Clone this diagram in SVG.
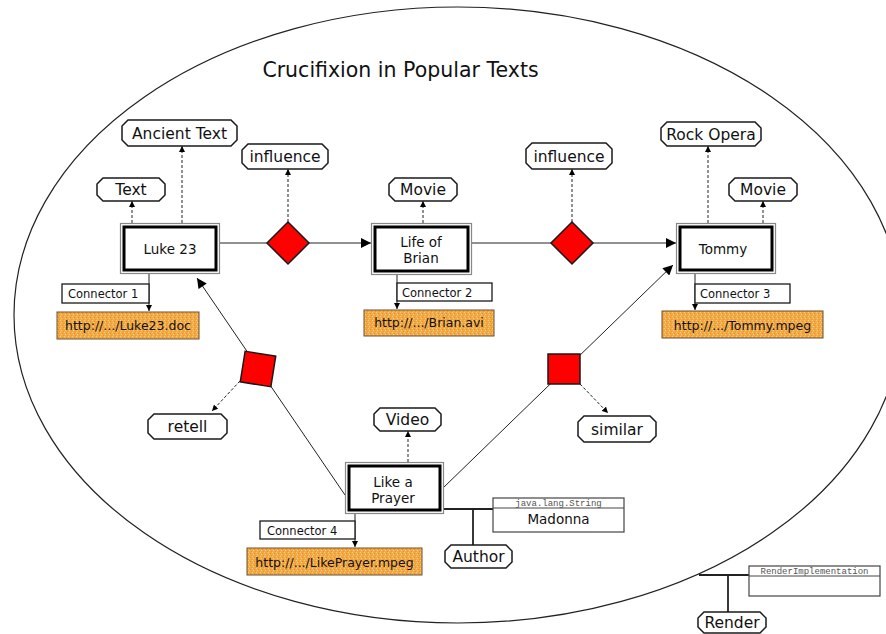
<svg xmlns="http://www.w3.org/2000/svg" width="886" height="634" viewBox="0 0 886 634">
<style>
text{font-family:"DejaVu Sans","Liberation Sans",sans-serif;fill:#111}
.tag{fill:#fff;stroke:#1a1a1a;stroke-width:1.5}
.tagt{font-size:15.5px;text-anchor:middle}
.nodeo{fill:#fff;stroke:#888;stroke-width:1.2}
.nodei{fill:none;stroke:#000;stroke-width:3}
.nodet{font-size:13.5px;text-anchor:middle}
.conn{fill:#fff;stroke:#1a1a1a;stroke-width:1.3}
.connt{font-size:11.5px}
.url{fill:url(#tex);stroke:#6b5030;stroke-width:1}
.urlt{font-size:12.5px;text-anchor:middle}
.rel{fill:#ff0000;stroke:#1a1a1a;stroke-width:1.5}
.ln{stroke:#222;stroke-width:1;fill:none}
.dash{stroke:#222;stroke-width:1;stroke-dasharray:3,2;fill:none}
.thick{stroke:#222;stroke-width:1.8;fill:none}
.cls{fill:#fff;stroke:#444;stroke-width:1.2}
.mono{font-family:"Liberation Mono","DejaVu Sans Mono",monospace;font-size:9px;fill:#555;text-anchor:middle}
</style>
<defs>
<pattern id="tex" width="4" height="4" patternUnits="userSpaceOnUse">
<rect width="4" height="4" fill="#f4aa44"/>
<rect x="0" y="0" width="1" height="1" fill="#fbcb7e"/>
<rect x="2" y="1" width="1" height="1" fill="#e0922c"/>
<rect x="1" y="2" width="1" height="1" fill="#fcd08a"/>
<rect x="3" y="3" width="1" height="1" fill="#e39a33"/>
</pattern>
<marker id="big" viewBox="0 0 10 10" refX="10" refY="5" markerWidth="11" markerHeight="10" markerUnits="userSpaceOnUse" orient="auto">
<path d="M0,0 L10,5 L0,10 z" fill="#000"/>
</marker>
<marker id="sm" viewBox="0 0 10 10" refX="10" refY="5" markerWidth="6" markerHeight="6" markerUnits="userSpaceOnUse" orient="auto">
<path d="M0,0 L10,5 L0,10 z" fill="#000"/>
</marker>
</defs>
<rect width="886" height="634" fill="#fff"/>
<g id="context">
<ellipse cx="458" cy="315" rx="444" ry="308" fill="none" stroke="#222" stroke-width="1.2"/>
<text x="400.5" y="77" font-size="20.5px" text-anchor="middle">Crucifixion in Popular Texts</text>
</g>
<g id="connectors">
<line class="ln" x1="220" y1="243" x2="267" y2="243"/>
<line class="ln" x1="309" y1="243" x2="371" y2="243" marker-end="url(#big)"/>
<line class="ln" x1="472" y1="243" x2="551" y2="243"/>
<line class="ln" x1="593" y1="243" x2="676" y2="243" marker-end="url(#big)"/>
<line class="ln" x1="345" y1="495" x2="197" y2="278" marker-end="url(#big)"/>
<line class="ln" x1="443" y1="488" x2="673" y2="265" marker-end="url(#big)"/>
<line class="dash" x1="132" y1="223" x2="132" y2="201" marker-end="url(#sm)"/>
<line class="dash" x1="182" y1="223" x2="182" y2="146" marker-end="url(#sm)"/>
<line class="dash" x1="288" y1="222" x2="288" y2="169" marker-end="url(#sm)"/>
<line class="dash" x1="423" y1="223" x2="423" y2="201" marker-end="url(#sm)"/>
<line class="dash" x1="572" y1="222" x2="572" y2="169" marker-end="url(#sm)"/>
<line class="dash" x1="708" y1="223" x2="708" y2="146" marker-end="url(#sm)"/>
<line class="dash" x1="763" y1="223" x2="763" y2="201" marker-end="url(#sm)"/>
<line class="dash" x1="240" y1="381" x2="212" y2="411" marker-end="url(#sm)"/>
<line class="dash" x1="580" y1="384" x2="608" y2="413" marker-end="url(#sm)"/>
<line class="dash" x1="408" y1="462" x2="408" y2="431" marker-end="url(#sm)"/>
<line class="ln" x1="149" y1="274" x2="149" y2="311" marker-end="url(#sm)"/>
<line class="ln" x1="397" y1="275" x2="397" y2="309" marker-end="url(#sm)"/>
<line class="ln" x1="695" y1="274" x2="695" y2="310" marker-end="url(#sm)"/>
<line class="ln" x1="355" y1="514" x2="355" y2="547" marker-end="url(#sm)"/>
<line class="thick" x1="444" y1="509" x2="493" y2="509"/>
<line class="thick" x1="473" y1="509" x2="473" y2="545"/>
<line class="thick" x1="699" y1="575" x2="749" y2="575"/>
<line class="thick" x1="728" y1="575" x2="728" y2="612"/>
</g>
<g id="luke23">
<rect class="nodeo" x="120.5" y="223.5" width="99" height="50"/>
<rect class="nodei" x="124" y="227" width="92" height="43"/>
<text class="nodet" x="170" y="254">Luke 23</text>
</g>
<g id="lifeofbrian">
<rect class="nodeo" x="371.5" y="223.5" width="100" height="51"/>
<rect class="nodei" x="375" y="227" width="93" height="44"/>
<text class="nodet" x="421" y="247">Life of</text>
<text class="nodet" x="421" y="263">Brian</text>
</g>
<g id="tommy">
<rect class="nodeo" x="676.5" y="223.5" width="99" height="50"/>
<rect class="nodei" x="680" y="227" width="92" height="43"/>
<text class="nodet" x="723" y="254">Tommy</text>
</g>
<g id="likeaprayer">
<rect class="nodeo" x="345.5" y="462.5" width="98" height="51"/>
<rect class="nodei" x="349" y="466" width="91" height="44"/>
<text class="nodet" x="393" y="487">Like a</text>
<text class="nodet" x="393" y="503">Prayer</text>
</g>
<g id="influence1-rel">
<polygon class="rel" points="288,222 309,243 288,264 267,243"/>
</g>
<g id="influence2-rel">
<polygon class="rel" points="572,222 593,243 572,264 551,243"/>
</g>
<g id="retell-rel">
<rect class="rel" x="242.5" y="353.5" width="31" height="31" transform="rotate(9 258 369)"/>
</g>
<g id="similar-rel">
<rect class="rel" x="548" y="354" width="32" height="30"/>
</g>
<g id="tag-ancient">
<polygon class="tag" points="128,120 231,120 237,126 237,140 231,146 128,146 122,140 122,126"/>
<text class="tagt" x="179.5" y="139">Ancient Text</text>
</g>
<g id="tag-text">
<polygon class="tag" points="103,178 159,178 165,184 165,195 159,201 103,201 97,195 97,184"/>
<text class="tagt" x="131" y="195">Text</text>
</g>
<g id="tag-influence1">
<polygon class="tag" points="248,144 322,144 328,150 328,163 322,169 248,169 242,163 242,150"/>
<text class="tagt" x="285" y="162">influence</text>
</g>
<g id="tag-movie1">
<polygon class="tag" points="395,178 451,178 457,184 457,195 451,201 395,201 389,195 389,184"/>
<text class="tagt" x="423" y="195">Movie</text>
</g>
<g id="tag-influence2">
<polygon class="tag" points="532,143 606,143 612,149 612,163 606,169 532,169 526,163 526,149"/>
<text class="tagt" x="569" y="162">influence</text>
</g>
<g id="tag-rockopera">
<polygon class="tag" points="667,122 755,122 761,128 761,140 755,146 667,146 661,140 661,128"/>
<text class="tagt" x="711" y="139.5">Rock Opera</text>
</g>
<g id="tag-movie2">
<polygon class="tag" points="735,178 791,178 797,184 797,195 791,201 735,201 729,195 729,184"/>
<text class="tagt" x="763" y="195">Movie</text>
</g>
<g id="tag-retell">
<polygon class="tag" points="154,414 221,414 227,420 227,433 221,439 154,439 148,433 148,420"/>
<text class="tagt" x="187.5" y="432">retell</text>
</g>
<g id="tag-similar">
<polygon class="tag" points="584,416 650,416 656,422 656,436 650,442 584,442 578,436 578,422"/>
<text class="tagt" x="617" y="434.5">similar</text>
</g>
<g id="tag-video">
<polygon class="tag" points="380,408 435,408 441,414 441,425 435,431 380,431 374,425 374,414"/>
<text class="tagt" x="407.5" y="425">Video</text>
</g>
<g id="tag-author">
<polygon class="tag" points="451,545 506,545 512,551 512,562 506,568 451,568 445,562 445,551"/>
<text class="tagt" x="478.5" y="562">Author</text>
</g>
<g id="tag-render">
<polygon class="tag" points="704,612 760,612 766,618 766,627 760,633 704,633 698,627 698,618"/>
<text class="tagt" x="732" y="628">Render</text>
</g>
<g id="connector1">
<rect class="conn" x="62" y="284" width="87" height="19"/>
<text class="connt" x="68" y="298">Connector 1</text>
</g>
<g id="connector2">
<rect class="conn" x="397" y="283" width="95" height="18"/>
<text class="connt" x="402" y="297">Connector 2</text>
</g>
<g id="connector3">
<rect class="conn" x="695" y="284" width="95" height="19"/>
<text class="connt" x="700" y="298">Connector 3</text>
</g>
<g id="connector4">
<rect class="conn" x="260" y="521" width="95" height="18"/>
<text class="connt" x="267" y="535">Connector 4</text>
</g>
<g id="url-luke">
<rect class="url" x="57" y="312" width="142" height="27"/>
<text class="urlt" x="128" y="330">http://.../Luke23.doc</text>
</g>
<g id="url-brian">
<rect class="url" x="364" y="310" width="130" height="26"/>
<text class="urlt" x="429" y="327">http://.../Brian.avi</text>
</g>
<g id="url-tommy">
<rect class="url" x="662" y="311" width="161" height="27"/>
<text class="urlt" x="742.5" y="330">http://.../Tommy.mpeg</text>
</g>
<g id="url-likeprayer">
<rect class="url" x="247" y="548" width="175" height="27"/>
<text class="urlt" x="334.5" y="567">http://.../LikePrayer.mpeg</text>
</g>
<g id="madonna">
<rect class="cls" x="493" y="498" width="131" height="34"/>
<line x1="493" y1="508" x2="624" y2="508" stroke="#444" stroke-width="1"/>
<text class="mono" x="558.5" y="505.5">java.lang.String</text>
<text x="558.5" y="524" font-size="13.5px" text-anchor="middle">Madonna</text>
</g>
<g id="renderimpl">
<rect class="cls" x="749" y="566" width="131" height="30"/>
<line x1="749" y1="576" x2="880" y2="576" stroke="#444" stroke-width="1"/>
<text class="mono" x="814.5" y="573.5">RenderImplementation</text>
</g>
</svg>
